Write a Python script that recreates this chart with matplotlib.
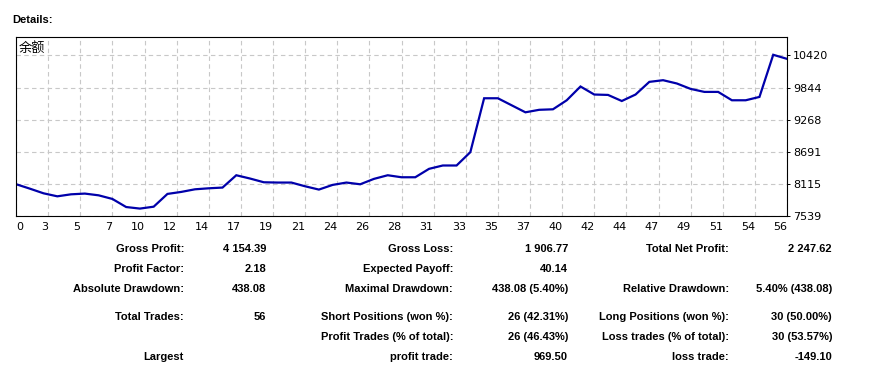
import matplotlib
matplotlib.use("Agg")
import matplotlib.pyplot as plt
import numpy as np

# balance after each trade
balance = [8110, 8030, 7946, 7892, 7928, 7941, 7910, 7845, 7700, 7672,
           7706, 7935, 7971, 8018, 8036, 8049, 8270, 8211, 8144, 8139,
           8139, 8072, 8013, 8097, 8139, 8108, 8205, 8270, 8234, 8234,
           8385, 8445, 8445, 8684, 9651, 9651, 9525, 9399, 9444, 9453,
           9615, 9862, 9718, 9711, 9602, 9718, 9945, 9975, 9916, 9819,
           9765, 9765, 9615, 9615, 9675, 10431, 10358]
xtick_labels = [0, 3, 5, 7, 10, 12, 14, 17, 19, 21, 24, 26, 28, 31, 33,
                35, 37, 40, 42, 44, 47, 49, 51, 54, 56]
ytick_labels = [7539, 8115, 8691, 9268, 9844, 10420]

# report table: rows of (label, value) for three columns
col1 = [("Gross Profit:", "4 154.39"), ("Profit Factor:", "2.18"),
        ("Absolute Drawdown:", "438.08"), ("Total Trades:", "56"),
        ("", ""), ("Largest", "")]
col2 = [("Gross Loss:", "1 906.77"), ("Expected Payoff:", "40.14"),
        ("Maximal Drawdown:", "438.08 (5.40%)"),
        ("Short Positions (won %):", "26 (42.31%)"),
        ("Profit Trades (% of total):", "26 (46.43%)"),
        ("profit trade:", "969.50")]
col3 = [("Total Net Profit:", "2 247.62"), ("", ""),
        ("Relative Drawdown:", "5.40% (438.08)"),
        ("Long Positions (won %):", "30 (50.00%)"),
        ("Loss trades (% of total):", "30 (53.57%)"),
        ("loss trade:", "-149.10")]

W, H = 874, 366
fig = plt.figure(figsize=(W / 100, H / 100), dpi=100)

def px(x, y):
    return x / W, 1 - y / H

# chart box in pixels
left, top, right, bottom = 16, 37, 787, 216
ax = fig.add_axes([left / W, 1 - bottom / H, (right - left) / W, (bottom - top) / H])

x = np.arange(len(balance))
ax.plot(x, balance, color="#0000aa", lw=1.6, solid_joinstyle="miter")

ax.set_xlim(0, len(balance) - 1)
ax.set_ylim(7539, 10750)

ax.set_xticks(np.linspace(0, len(balance) - 1, len(xtick_labels)))
ax.set_xticklabels([str(v) for v in xtick_labels])
ax.set_yticks(ytick_labels)
ax.set_yticklabels([str(v) for v in ytick_labels])
ax.yaxis.tick_right()

ax.tick_params(axis="x", length=0, pad=4, labelsize=8)
ax.tick_params(axis="y", length=2.5, width=0.7, pad=2, labelsize=8)
for lab in ax.get_xticklabels():
    lab.set_ha("right")
ax.get_xticklabels()[0].set_ha("left")

ax.grid(True, color="#c8c8c8", lw=0.8, linestyle=(0, (4, 3)))
for s in ax.spines.values():
    s.set_linewidth(0.8)
    s.set_color("black")

ax.text(0.004, 0.975, "余额", transform=ax.transAxes, ha="left", va="top",
        fontsize=9.5, family=["Noto Sans CJK SC", "DejaVu Sans"])

fig.text(*px(12, 20), "Details:", fontsize=8, fontweight="bold",
         family="Liberation Sans", ha="left", va="center")

rows_y = [249, 269, 289, 317, 337, 357]
cols_x = [(184, 266), (453, 568), (729, 832)]
for col, (lx, vx) in zip([col1, col2, col3], cols_x):
    for (lab, val), ry in zip(col, rows_y):
        if lab:
            fig.text(*px(lx, ry), lab, fontsize=8, fontweight="bold",
                     family="Liberation Sans", ha="right", va="center")
        if val:
            fig.text(*px(vx, ry), val, fontsize=8, fontweight="bold",
                     family="Liberation Sans", ha="right", va="center")

fig.savefig("out.png", dpi=100)
